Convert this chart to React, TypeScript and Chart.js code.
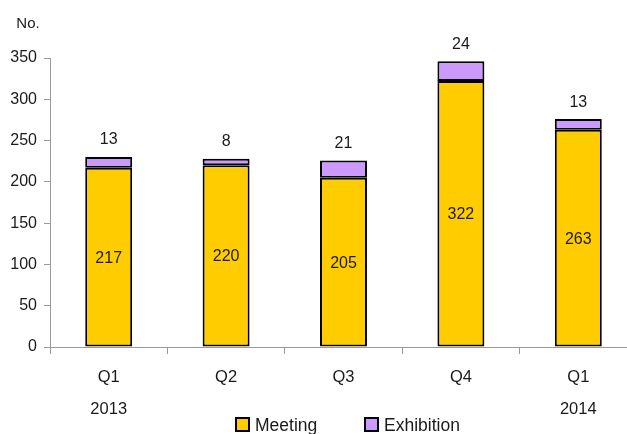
import React, { useEffect, useRef } from "react";
import { Chart, registerables } from "chart.js";

Chart.register(...registerables);

const categories: string[][] = [["Q1", "2013"], ["Q2"], ["Q3"], ["Q4"], ["Q1", "2014"]];
const meeting: number[] = [217, 220, 205, 322, 263];
const exhibition: number[] = [13, 8, 21, 24, 13];
const yTicks: number[] = [0, 50, 100, 150, 200, 250, 300, 350];
const unitLabel = "No.";

const FONT = "'Liberation Sans', Arial, sans-serif";
const TEXT = "#1a1a1a";
const AXIS = "#9a9a9a";

export default function App() {
  const ref = useRef<HTMLCanvasElement | null>(null);

  useEffect(() => {
    if (!ref.current) return;
    document.body.style.margin = "0";
    document.body.style.overflow = "hidden";

    const labelsPlugin = {
      id: "valueLabels",
      afterDatasetsDraw(chart: any) {
        const ctx = chart.ctx;
        ctx.save();
        ctx.fillStyle = TEXT;
        ctx.font = `16px ${FONT}`;
        ctx.textAlign = "center";
        ctx.textBaseline = "middle";
        const m0 = chart.getDatasetMeta(0);
        m0.data.forEach((bar: any, i: number) => {
          ctx.fillText(String(chart.data.datasets[0].data[i]), bar.x, (bar.y + bar.base) / 2 + 1);
        });
        const m1 = chart.getDatasetMeta(1);
        m1.data.forEach((bar: any, i: number) => {
          ctx.fillText(String(chart.data.datasets[1].data[i]), bar.x, bar.y - 17);
        });
        // unit label
        ctx.font = `15px ${FONT}`;
        ctx.fillText(unitLabel, 28, 24);
        // legend
        const items = chart.data.datasets.map((d: any) => ({ label: d.label, color: d.backgroundColor }));
        const xs = [236, 365];
        ctx.font = `17.5px ${FONT}`;
        ctx.textAlign = "left";
        items.forEach((it: any, i: number) => {
          const x = xs[i];
          ctx.fillStyle = it.color;
          ctx.fillRect(x, 418, 13, 13);
          ctx.strokeStyle = "#000";
          ctx.lineWidth = 2;
          ctx.strokeRect(x, 418, 13, 13);
          ctx.fillStyle = TEXT;
          ctx.fillText(it.label, x + 19, 426);
        });
        ctx.restore();
      },
    };

    const chart = new Chart(ref.current, {
      type: "bar",
      data: {
        labels: categories,
        datasets: [
          {
            label: "Meeting",
            data: meeting,
            backgroundColor: "#FFCC00",
            borderColor: "#000",
            borderWidth: 2,
            borderSkipped: false,
            categoryPercentage: 1,
            barPercentage: 0.4,
          },
          {
            label: "Exhibition",
            data: exhibition,
            backgroundColor: "#CC99FF",
            borderColor: "#000",
            borderWidth: 2,
            borderSkipped: false,
            categoryPercentage: 1,
            barPercentage: 0.4,
          },
        ],
      },
      options: {
        animation: false,
        responsive: true,
        maintainAspectRatio: false,
        layout: { padding: { top: 58, right: 3, left: 0, bottom: 0 } },
        plugins: {
          legend: { display: false },
          tooltip: { enabled: false },
        },
        scales: {
          x: {
            stacked: true,
            border: { color: AXIS, width: 1 },
            grid: {
              offset: true,
              drawOnChartArea: false,
              drawTicks: true,
              tickLength: 7,
              color: AXIS,
            },
            ticks: {
              autoSkip: false,
              maxRotation: 0,
              color: TEXT,
              padding: 8,
              font: { family: FONT, size: 16.5, lineHeight: 1.9 },
            },
            afterFit(scale: any) {
              scale.height = 87;
            },
          },
          y: {
            stacked: true,
            min: 0,
            max: 350,
            border: { color: AXIS, width: 1 },
            grid: {
              drawOnChartArea: false,
              drawTicks: true,
              tickLength: 6,
              color: AXIS,
            },
            afterBuildTicks(scale: any) {
              scale.ticks = yTicks.map((v) => ({ value: v }));
            },
            ticks: {
              color: TEXT,
              padding: 7,
              font: { family: FONT, size: 16 },
            },
            afterFit(scale: any) {
              scale.width = 50;
            },
          },
        },
      },
      plugins: [labelsPlugin],
    });

    return () => chart.destroy();
  }, []);

  return (
    <div style={{ position: "fixed", left: 0, top: 0, width: 627, height: 434, overflow: "hidden", background: "#fff" }}>
      <div style={{ position: "relative", width: 640, height: 434 }}>
        <canvas ref={ref} />
      </div>
    </div>
  );
}
